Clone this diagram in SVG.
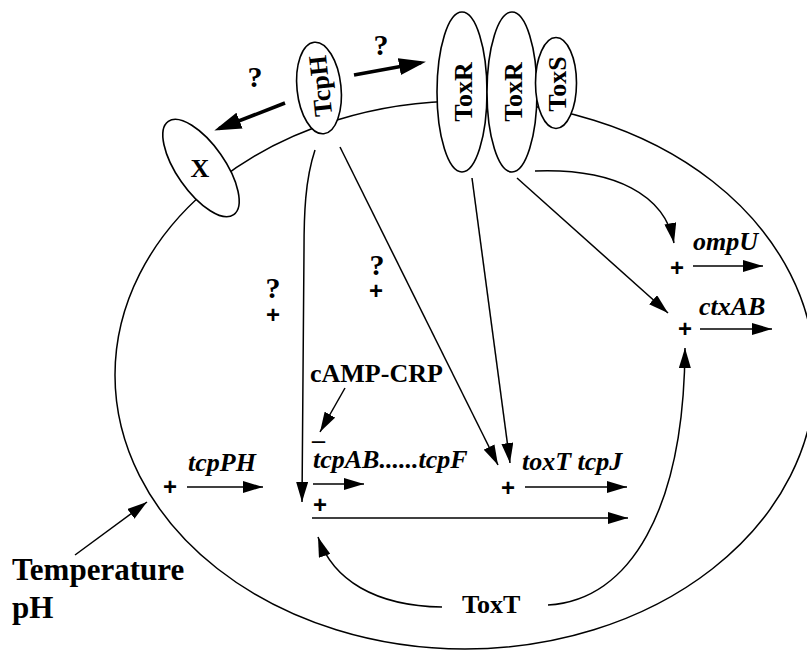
<svg xmlns="http://www.w3.org/2000/svg" width="807" height="651" viewBox="0 0 807 651">
<style>
  .ln{fill:none;stroke:#000;stroke-width:1.5}
  .thick{fill:none;stroke:#000;stroke-width:3.5}
  .prot{fill:#fff;stroke:#000;stroke-width:1.6}
  .t{font-family:"Liberation Serif","Times New Roman",serif;font-weight:bold;font-size:26px;fill:#000}
  .q{font-size:30px}
  .gi{font-family:"Liberation Serif","Times New Roman",serif;font-weight:bold;font-style:italic;font-size:26px;fill:#000}
  .pl{font-family:"Liberation Sans",Arial,sans-serif;font-weight:bold;font-size:24px;fill:#000;text-anchor:middle}
  .c{text-anchor:middle}
</style>
<defs>
  <marker id="ah" markerUnits="userSpaceOnUse" markerWidth="20" markerHeight="12" refX="20" refY="6" orient="auto">
    <path d="M0,0 L20,6 L0,12 z" fill="#000"/>
  </marker>
  <marker id="ahb" markerUnits="userSpaceOnUse" markerWidth="27" markerHeight="17" refX="22" refY="8.5" orient="auto">
    <path d="M0,0 L27,8.5 L0,17 z" fill="#000"/>
  </marker>
</defs>
<rect width="807" height="651" fill="#fff"/>

<g id="cell">
  <ellipse class="ln" cx="465" cy="375" rx="350" ry="274"/>
</g>

<g id="connectors">
  <path class="thick" d="M285,103 L219,128.6" marker-end="url(#ahb)"/>
  <path class="thick" d="M354,75 L421,62.7" marker-end="url(#ahb)"/>
  <path class="ln" d="M315,150 C305,180 304,215 304,250 L302,502" marker-end="url(#ah)"/>
  <path class="ln" d="M340,147 L498,465" marker-end="url(#ah)"/>
  <path class="ln" d="M472,178 L510,463" marker-end="url(#ah)"/>
  <path class="ln" d="M517,178 L668,313" marker-end="url(#ah)"/>
  <path class="ln" d="M535,171 C615,168 665,195 674,243" marker-end="url(#ah)"/>
  <path class="ln" d="M548,605 C630,600 684,510 685,348" marker-end="url(#ah)"/>
  <path class="ln" d="M442,607 C375,606 333,580 318,537" marker-end="url(#ah)"/>
  <path class="ln" d="M75,555 L147,502" marker-end="url(#ah)"/>
  <path class="ln" d="M345,388 L320,432" marker-end="url(#ah)"/>
  <path class="ln" d="M187,487 L263,487" marker-end="url(#ah)"/>
  <path class="ln" d="M313,484 L364,484" marker-end="url(#ah)"/>
  <path class="ln" d="M312,518 L628,518" marker-end="url(#ah)"/>
  <path class="ln" d="M525,487 L627,487" marker-end="url(#ah)"/>
  <path class="ln" d="M693,266 L763,266" marker-end="url(#ah)"/>
  <path class="ln" d="M700,329 L772,329" marker-end="url(#ah)"/>
</g>

<g id="X">
  <ellipse class="prot" cx="0" cy="0" rx="57" ry="24" transform="translate(201,168) rotate(55)"/>
  <text class="t c" x="200" y="177">X</text>
</g>
<g id="TcpH">
  <ellipse class="prot" cx="0" cy="0" rx="22" ry="46" transform="translate(319,88) rotate(-6)"/>
  <text class="t c" transform="translate(329,85) rotate(-96)">TcpH</text>
</g>
<g id="ToxR1">
  <ellipse class="prot" cx="462" cy="92" rx="25" ry="80"/>
  <text class="t c" transform="translate(472,92) rotate(-90)">ToxR</text>
</g>
<g id="ToxR2">
  <ellipse class="prot" cx="512" cy="92" rx="25" ry="80"/>
  <text class="t c" transform="translate(522,92) rotate(-90)">ToxR</text>
</g>
<g id="ToxS">
  <ellipse class="prot" cx="556" cy="83" rx="20.5" ry="45.5"/>
  <text class="t c" transform="translate(566,84) rotate(-90)">ToxS</text>
</g>

<g id="labels">
  <text class="t q c" x="255" y="87">?</text>
  <text class="t q c" x="381" y="55">?</text>
  <text class="t q c" x="273" y="298">?</text>
  <text class="pl" x="273" y="323">+</text>
  <text class="t q c" x="377" y="275">?</text>
  <text class="pl" x="376" y="299">+</text>
  <text class="t" x="310" y="382">cAMP-CRP</text>
  <text class="t" x="312" y="448">–</text>
  <text class="gi" x="188" y="471">tcpPH</text>
  <text class="pl" x="170" y="495">+</text>
  <text class="gi" x="313" y="468">tcpAB......tcpF</text>
  <text class="pl" x="320" y="513">+</text>
  <text class="gi" x="522" y="470">toxT tcpJ</text>
  <text class="pl" x="508" y="496">+</text>
  <text class="gi" x="693" y="250">ompU</text>
  <text class="pl" x="677" y="276">+</text>
  <text class="gi" x="699" y="315">ctxAB</text>
  <text class="pl" x="685" y="337">+</text>
  <text class="t" x="462" y="613">ToxT</text>
  <text class="t" x="12" y="580" style="font-size:31px">Temperature</text>
  <text class="t" x="12" y="618" style="font-size:31px">pH</text>
</g>
</svg>
